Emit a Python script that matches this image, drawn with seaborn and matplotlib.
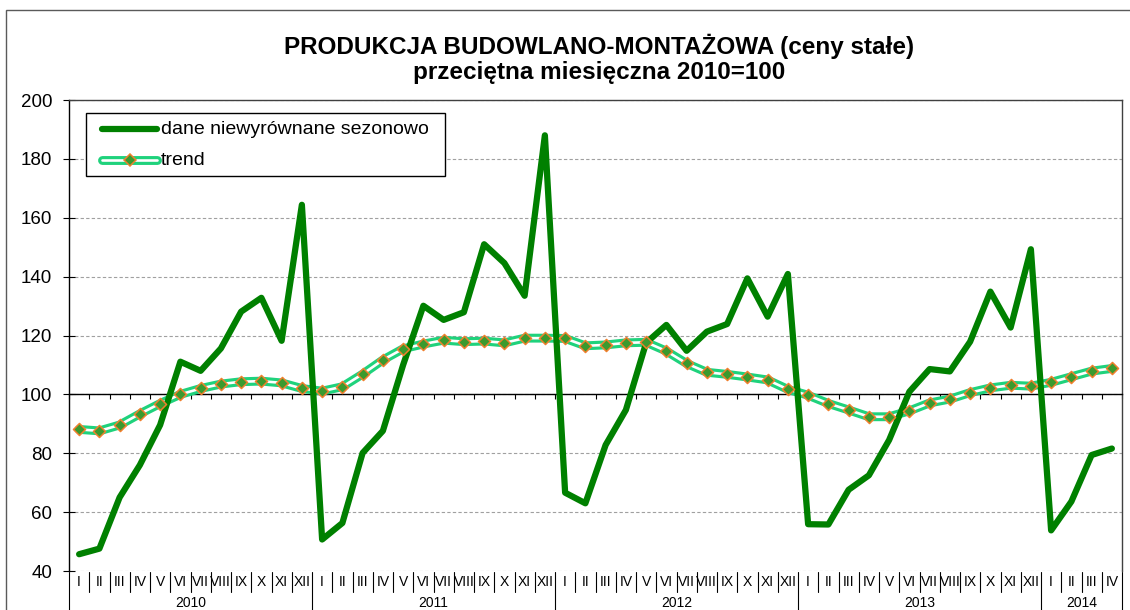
import numpy as np
import pandas as pd
import matplotlib
matplotlib.use('Agg')
import matplotlib.pyplot as plt
import seaborn as sns
from matplotlib.lines import Line2D
from matplotlib.patches import Rectangle
import matplotlib.transforms as mtrans

# ---------------- data ----------------
years = ['2010', '2011', '2012', '2013', '2014']
months = ['I', 'II', 'III', 'IV', 'V', 'VI', 'VII', 'VIII', 'IX', 'X', 'XI', 'XII']
months_per_year = [12, 12, 12, 12, 4]

unadjusted = [
    45.7, 47.6, 65.0, 76.0, 89.6, 111.1, 108.0, 115.6, 128.1, 132.8, 118.2, 164.4,   # 2010
    50.7, 56.3, 80.1, 87.6, 110.0, 130.1, 125.3, 127.9, 151.0, 144.6, 133.5, 188.0,  # 2011
    66.6, 63.0, 82.8, 94.7, 117.5, 123.6, 114.8, 121.3, 123.9, 139.4, 126.4, 140.9,  # 2012
    55.9, 55.8, 67.6, 72.5, 84.5, 100.9, 108.6, 107.8, 117.9, 134.9, 122.7, 149.3,   # 2013
    53.8, 63.6, 79.4, 81.6,                                                          # 2014
]
trend = [
    88.1, 87.6, 89.6, 93.4, 96.9, 100.0, 102.0, 103.5, 104.3, 104.5, 103.9, 102.0,    # 2010
    101.1, 102.6, 106.9, 111.7, 115.5, 117.1, 118.4, 117.9, 118.1, 117.5, 119.1, 119.1,  # 2011
    119.0, 116.5, 116.8, 117.5, 117.7, 114.7, 110.5, 107.5, 106.8, 105.9, 104.9, 101.7,  # 2012
    99.7, 96.9, 94.7, 92.4, 92.4, 94.4, 97.1, 98.4, 100.6, 102.2, 103.1, 102.8,      # 2013
    104.1, 106.0, 107.9, 108.8,                                                     # 2014
]
series_labels = ['dane niewyrównane sezonowo', 'trend']
title_lines = ['PRODUKCJA BUDOWLANO-MONTAŻOWA (ceny stałe)', 'przeciętna miesięczna 2010=100']
yticks = [40, 60, 80, 100, 120, 140, 160, 180, 200]

# ---------------- style ----------------
sns.set_style('white')
plt.rcParams['font.family'] = ['Liberation Sans', 'DejaVu Sans']
plt.rcParams['text.color'] = 'black'
plt.rcParams['xtick.color'] = 'black'
plt.rcParams['ytick.color'] = 'black'

GREEN = '#008000'
TREND_OUT = '#1fd27c'
MK_FACE = '#3b9a2e'
MK_EDGE = '#f07f2d'

W, H = 1130, 610
fig = plt.figure(figsize=(W / 100, H / 100), dpi=100)


def fx(x):
    return x / W


def fy(y):
    return 1 - y / H


ax = fig.add_axes([fx(69), fy(571), (1122 - 69) / W, (571 - 100) / H])

month_labels = [m for n in months_per_year for m in months[:n]]
df = pd.DataFrame({'idx': np.arange(len(unadjusted)),
                   'unadjusted': unadjusted,
                   'trend': trend})

sns.lineplot(data=df, x='idx', y='trend', color=TREND_OUT, lw=6.4, ax=ax,
             legend=False, zorder=3)
sns.lineplot(data=df, x='idx', y='trend', color='white', lw=1.9, ax=ax,
             legend=False, zorder=4)
sns.lineplot(data=df, x='idx', y='unadjusted', color=GREEN, lw=4.5, ax=ax,
             legend=False, zorder=5, solid_capstyle='round', solid_joinstyle='round')
sns.scatterplot(data=df, x='idx', y='trend', marker='D', s=38, color=MK_FACE,
                edgecolor=MK_EDGE, linewidth=1.1, ax=ax, legend=False, zorder=6)

n = len(unadjusted)
ax.set_xlim(-0.5, n - 0.5)
ax.set_ylim(40, 200)
ax.set_yticks(yticks)
ax.set_xticks(np.arange(-0.5, n, 1))
ax.set_xticklabels([])
ax.set_xlabel('')
ax.set_ylabel('')

ax.spines['bottom'].set_position(('data', 100))
for s in ['left', 'bottom']:
    ax.spines[s].set_color('black')
    ax.spines[s].set_linewidth(1)
for s in ['top', 'right']:
    ax.spines[s].set_color('#404040')
    ax.spines[s].set_linewidth(1)

ax.tick_params(axis='x', bottom=True, direction='out', length=3.5, width=0.8,
               labelbottom=False)
ax.tick_params(axis='y', left=True, direction='inout', length=8, width=0.8,
               labelsize=13.5, pad=8)
ax.grid(axis='y', color='#a0a0a0', lw=0.8, ls=(0, (3, 2)))
ax.set_axisbelow(True)

# ---------------- category axis (months / years) ----------------
trans = mtrans.blended_transform_factory(ax.transData, fig.transFigure)
year_bounds = [-0.5]
acc = -0.5
for c in months_per_year:
    acc += c
    year_bounds.append(acc)

for k in range(n + 1):
    b = k - 0.5
    is_year = any(abs(b - yb) < 1e-9 for yb in year_bounds)
    ax.add_line(Line2D([b, b], [fy(572), fy(610 if is_year else 592)],
                       transform=trans, color='black', lw=0.8, clip_on=False))

for i, lab in enumerate(month_labels):
    ax.text(i, fy(582), lab, transform=trans, ha='center', va='center', fontsize=10)

for j, yr in enumerate(years):
    center = (year_bounds[j] + year_bounds[j + 1]) / 2
    ax.text(center, fy(603), yr, transform=trans, ha='center', va='center', fontsize=10)

# ---------------- figure border ----------------
fig.add_artist(Rectangle((fx(6), -0.1), 1.2, fy(10) + 0.1, transform=fig.transFigure,
                         fill=False, edgecolor='#5a5a5a', lw=1, zorder=1))

# ---------------- title ----------------
fig.text(fx(599), fy(46), title_lines[0], ha='center', va='center',
         fontsize=17.5, fontweight='bold')
fig.text(fx(599), fy(73), title_lines[1], ha='center', va='center',
         fontsize=17.5, fontweight='bold')

# ---------------- legend ----------------
fig.add_artist(Rectangle((fx(86), fy(176)), (445 - 86) / W, (176 - 113) / H,
                         transform=fig.transFigure, facecolor='white',
                         edgecolor='black', lw=1, zorder=10))
fig.add_artist(Line2D([fx(102), fx(157)], [fy(129), fy(129)], transform=fig.transFigure,
                      color=GREEN, lw=4.5, solid_capstyle='round', zorder=11))
fig.text(fx(161), fy(129), series_labels[0], ha='left', va='center', fontsize=14, zorder=12)
fig.add_artist(Line2D([fx(102), fx(157)], [fy(160), fy(160)], transform=fig.transFigure,
                      color=TREND_OUT, lw=6.4, solid_capstyle='round', zorder=11))
fig.add_artist(Line2D([fx(102), fx(157)], [fy(160), fy(160)], transform=fig.transFigure,
                      color='white', lw=1.9, solid_capstyle='round', zorder=11))
fig.add_artist(Line2D([fx(129.5)], [fy(160)], transform=fig.transFigure, ls='none',
                      marker='D', ms=6.2, mfc=MK_FACE, mec=MK_EDGE, mew=1.1, zorder=12))
fig.text(fx(161), fy(160), series_labels[1], ha='left', va='center', fontsize=14, zorder=12)

fig.savefig('out.png', dpi=100)
